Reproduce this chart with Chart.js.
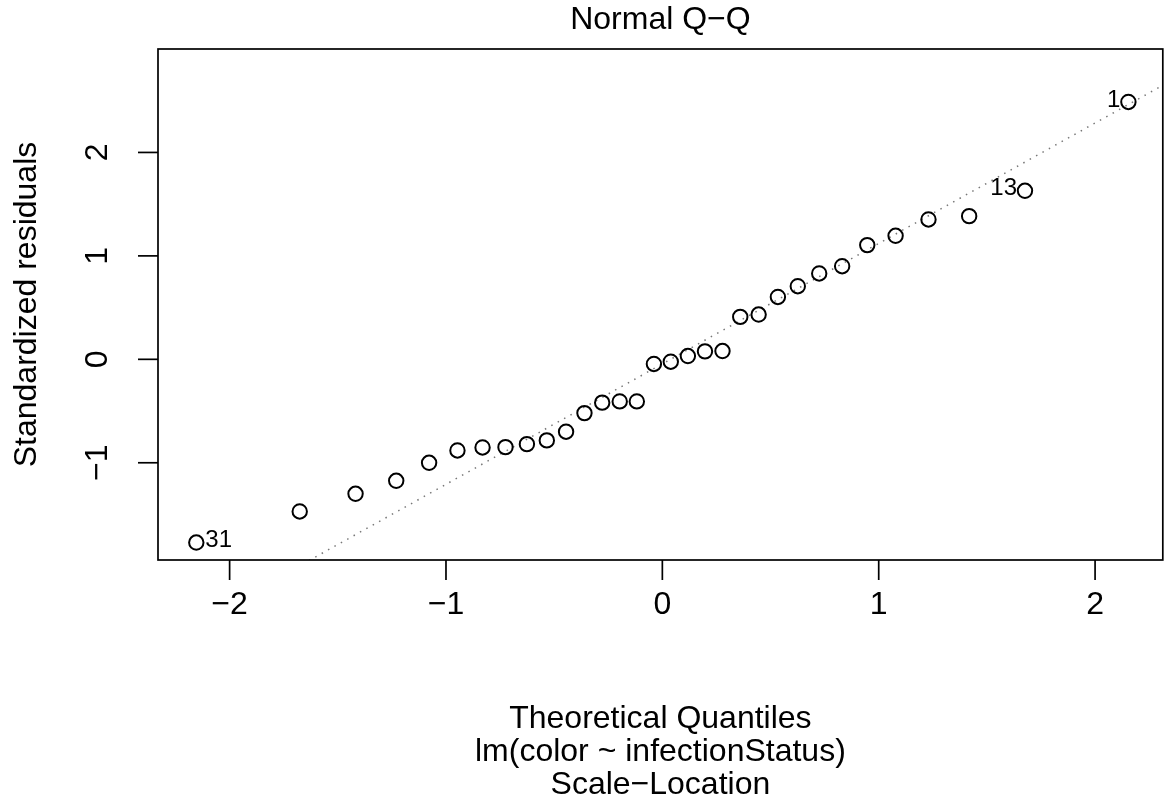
<!DOCTYPE html>
<html>
<head>
<meta charset="utf-8">
<script src="https://cdn.jsdelivr.net/npm/chart.js"></script>
<style>
  html, body { margin: 0; padding: 0; background: #fff; }
</style>
</head>
<body>
<canvas id="qq-chart" width="1172" height="797"></canvas>
<script>
// theoretical quantiles and standardized residuals
const theoretical = [-2.154, -1.676, -1.418, -1.230, -1.078, -0.947, -0.831, -0.725,
  -0.626, -0.534, -0.445, -0.360, -0.278, -0.197, -0.118, -0.039,
  0.039, 0.118, 0.197, 0.278, 0.360, 0.445, 0.534, 0.626,
  0.725, 0.831, 0.947, 1.078, 1.230, 1.418, 1.676, 2.154];
const residuals = [-1.771, -1.471, -1.300, -1.174, -1.000, -0.881, -0.852, -0.849,
  -0.820, -0.784, -0.700, -0.520, -0.419, -0.407, -0.407, -0.045,
  -0.023, 0.032, 0.077, 0.080, 0.410, 0.433, 0.603, 0.707,
  0.830, 0.900, 1.104, 1.194, 1.352, 1.384, 1.629, 2.488];
// labelled observations (index into the sorted points, observation number)
const idIndex = [0, 30, 31];
const idText = ['31', '13', '1'];
// qqline end points
const lineX = [-2.40, 2.40];
const lineY = [-2.838, 2.750];
const xTicks = [-2, -1, 0, 1, 2];
const yTicks = [-1, 0, 1, 2];

const FONT = '"Liberation Sans", Arial, sans-serif';
const fmt = v => (v < 0 ? '\u2212' + Math.abs(v) : String(v));

const rFrame = {
  id: 'rFrame',
  afterDraw(chart) {
    const ctx = chart.ctx;
    const a = chart.chartArea;
    const xs = chart.scales.x, ys = chart.scales.y;
    ctx.save();
    ctx.strokeStyle = '#000';
    ctx.fillStyle = '#000';
    ctx.lineWidth = 1.7;
    ctx.strokeRect(a.left, a.top, a.right - a.left, a.bottom - a.top);

    // x axis
    ctx.font = '32px ' + FONT;
    ctx.textAlign = 'center';
    ctx.textBaseline = 'middle';
    xTicks.forEach(v => {
      const px = xs.getPixelForValue(v);
      ctx.beginPath();
      ctx.moveTo(px, a.bottom);
      ctx.lineTo(px, a.bottom + 20);
      ctx.stroke();
      ctx.fillText(fmt(v), px, 605);
    });

    // y axis, labels rotated like R
    yTicks.forEach(v => {
      const py = ys.getPixelForValue(v);
      ctx.beginPath();
      ctx.moveTo(a.left, py);
      ctx.lineTo(a.left - 20, py);
      ctx.stroke();
      ctx.save();
      ctx.translate(98, py);
      ctx.rotate(-Math.PI / 2);
      ctx.fillText(fmt(v), 0, 0);
      ctx.restore();
    });

    ctx.save();
    ctx.translate(27, (a.top + a.bottom) / 2);
    ctx.rotate(-Math.PI / 2);
    ctx.fillText('Standardized residuals', 0, 0);
    ctx.restore();

    const cx = (a.left + a.right) / 2;
    ctx.fillText('Normal Q\u2212Q', cx, 20);
    ctx.fillText('Theoretical Quantiles', cx, 719);
    ctx.fillText('lm(color ~ infectionStatus)', cx, 752);
    ctx.fillText('Scale\u2212Location', cx, 785);

    // observation ids
    ctx.font = '24px ' + FONT;
    idIndex.forEach((i, k) => {
      const px = xs.getPixelForValue(theoretical[i]);
      const py = ys.getPixelForValue(residuals[i]);
      if (theoretical[i] < 0) {
        ctx.textAlign = 'left';
        ctx.fillText(idText[k], px + 9, py - 2);
      } else {
        ctx.textAlign = 'right';
        ctx.fillText(idText[k], px - 8, py - 2);
      }
    });
    ctx.restore();
  }
};

new Chart(document.getElementById('qq-chart').getContext('2d'), {
  type: 'scatter',
  data: {
    datasets: [
      {
        data: theoretical.map((x, i) => ({ x: x, y: residuals[i] })),
        pointStyle: 'circle',
        pointRadius: 7.2,
        pointBorderWidth: 2,
        pointBackgroundColor: 'rgba(0,0,0,0)',
        pointBorderColor: '#000'
      },
      {
        data: lineX.map((x, i) => ({ x: x, y: lineY[i] })),
        showLine: true,
        pointRadius: 0,
        borderColor: '#777',
        borderWidth: 1.5,
        borderDash: [1.5, 5.8]
      }
    ]
  },
  options: {
    responsive: false,
    devicePixelRatio: 1,
    animation: false,
    layout: {
      padding: { left: 158, right: 5, top: 49, bottom: 237 }
    },
    plugins: {
      legend: { display: false },
      tooltip: { enabled: false }
    },
    scales: {
      x: { type: 'linear', min: -2.331, max: 2.313, display: false },
      y: { type: 'linear', min: -1.94, max: 3.00, display: false }
    }
  },
  plugins: [rFrame]
});
</script>
</body>
</html>
